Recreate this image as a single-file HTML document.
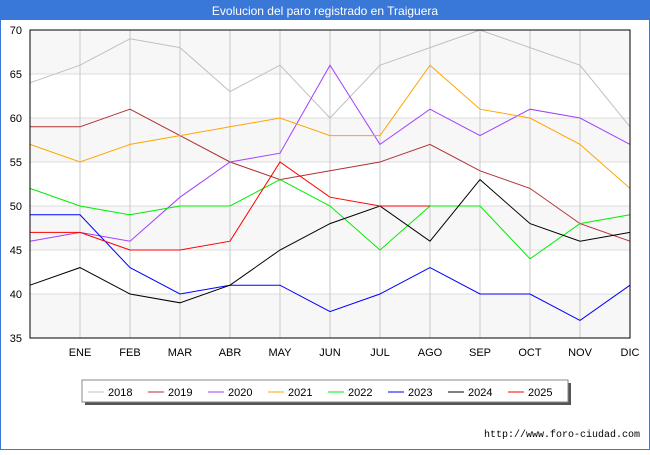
<!DOCTYPE html>
<html><head><meta charset="utf-8"><style>
body{margin:0;width:650px;height:450px;overflow:hidden;font-family:"Liberation Sans","DejaVu Sans",sans-serif;background:#fff}
</style></head><body>
<svg id="c" width="650" height="450" xmlns="http://www.w3.org/2000/svg">
<rect x="0.5" y="0.5" width="649" height="449" fill="#fff" stroke="#3a78d8"/>
<rect x="0" y="0" width="650" height="20" fill="#3a78d8"/>
<text x="325" y="15" text-anchor="middle" font-size="12" fill="#fff">Evolucion del paro registrado en Traiguera</text>
<g id="plot"></g>
<text x="640" y="437" text-anchor="end" font-size="10" font-family="Liberation Mono, monospace" fill="#000">http://www.foro-ciudad.com</text>
</svg>
<script>
const months=["","ENE","FEB","MAR","ABR","MAY","JUN","JUL","AGO","SEP","OCT","NOV","DIC"];
const yTicks=[35,40,45,50,55,60,65,70];
const seriesNames=["2018","2019","2020","2021","2022","2023","2024","2025"];
const seriesColors=["#c0c0c0","#b03030","#a040ff","#ffa500","#00ee00","#0000ff","#000000","#ff0000"];
const s2018=[64,66,69,68,63,66,60,66,68,70,68,66,59];
const s2019=[59,59,61,58,55,53,54,55,57,54,52,48,46];
const s2020=[46,47,46,51,55,56,66,57,61,58,61,60,57];
const s2021=[57,55,57,58,59,60,58,58,66,61,60,57,52];
const s2022=[52,50,49,50,50,53,50,45,50,50,44,48,49];
const s2023=[49,49,43,40,41,41,38,40,43,40,40,37,41];
const s2024=[41,43,40,39,41,45,48,50,46,53,48,46,47];
const s2025=[47,47,45,45,46,55,51,50,50];
const allSeries=[s2018,s2019,s2020,s2021,s2022,s2023,s2024,s2025];
const X0=30,X1=630,Y0=338,Y1=30,ymin=35,ymax=70;
const xs=i=>X0+i*(X1-X0)/(months.length-1);
const ys=v=>Y0-(v-ymin)*(Y0-Y1)/(ymax-ymin);
const NS="http://www.w3.org/2000/svg";
const g=document.getElementById('plot');
function mk(t,a,p){const e=document.createElementNS(NS,t);for(const k in a)e.setAttribute(k,a[k]);(p||g).appendChild(e);return e;}
for(let i=0;i<yTicks.length-1;i++){
  const r=mk('rect',{x:X0,y:ys(yTicks[i+1]),width:X1-X0,height:ys(yTicks[i])-ys(yTicks[i+1]),fill:(i%2==0)?'#f7f7f7':'#ffffff'});
  
  
}
yTicks.forEach(v=>{
  const l=mk('line',{x1:X0,x2:X1,y1:ys(v),y2:ys(v),stroke:'#dddddd'});
  
  
  const t=mk('text',{x:22,y:ys(v)+4,'text-anchor':'end','font-size':11});
  t.textContent=v;
  
  
});
months.forEach((m,i)=>{
  const l=mk('line',{x1:xs(i),x2:xs(i),y1:Y1,y2:Y0,stroke:'#c8c8c8'});
  
  
  const t=mk('text',{x:xs(i),y:356,'text-anchor':'middle','font-size':11});
  t.textContent=m;
  
  
});
allSeries.forEach((s,k)=>{
  const p=mk('polyline',{points:s.map((v,i)=>xs(i)+','+ys(v)).join(' '),fill:'none',stroke:seriesColors[k],'stroke-width':1});
  
  
});
const b=mk('rect',{x:X0,y:Y1,width:X1-X0,height:Y0-Y1,fill:'none',stroke:'#000'});


const sh=mk('rect',{x:85,y:383,width:486,height:22,fill:'#555'});


const lg=mk('rect',{x:82,y:380,width:486,height:22,fill:'#fff',stroke:'#888'});


seriesNames.forEach((n,k)=>{
  const x=88+k*60;
  const l=mk('line',{x1:x,x2:x+16,y1:392,y2:392,stroke:seriesColors[k]});
  
  
  const t=mk('text',{x:x+20,y:396,'font-size':11});
  t.textContent=n;
  
  
});
</script>
</body></html>
